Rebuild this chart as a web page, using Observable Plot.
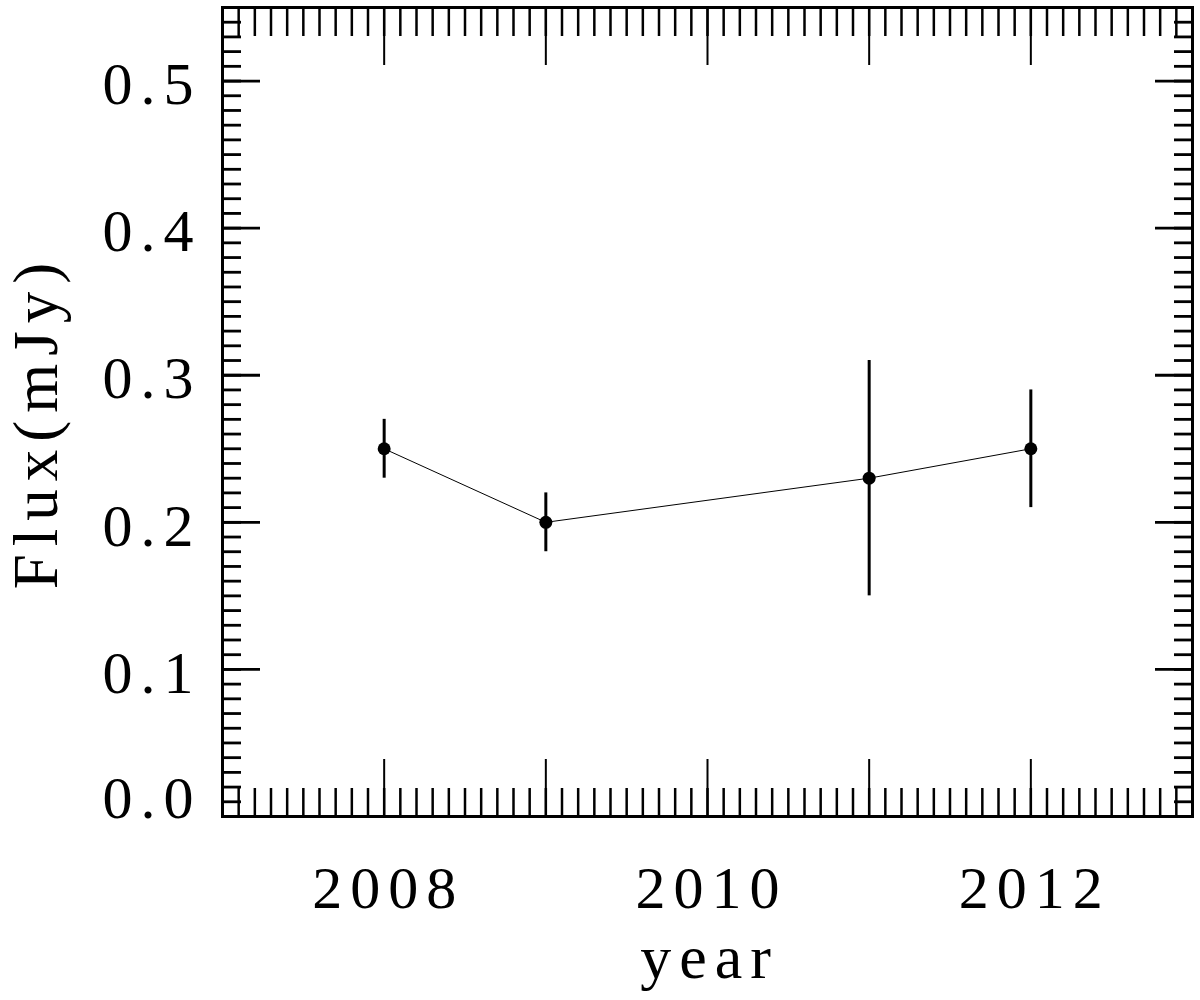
<!DOCTYPE html>
<html><head><meta charset="utf-8">
<script src="https://cdn.jsdelivr.net/npm/d3@7"></script>
<script src="https://cdn.jsdelivr.net/npm/@observablehq/plot@0.6"></script>
<style>
body{margin:0;background:#fff}
#chart svg text{letter-spacing:8px}
</style>
</head><body><div id="chart"></div>
<script>
const years = [2008, 2009, 2011, 2012];
const flux = [0.25, 0.20, 0.23, 0.25];
const fluxLow = [0.23, 0.18, 0.15, 0.21];
const fluxHigh = [0.27, 0.22, 0.31, 0.29];
const xMajorTicks = [2007, 2008, 2009, 2010, 2011, 2012, 2013];
const xTickLabels = [2008, 2010, 2012];
const yMajorTicks = [0, 0.1, 0.2, 0.3, 0.4, 0.5];
const yTickLabels = [0.1, 0.2, 0.3, 0.4, 0.5];
const yZeroLabel = [0];
const xTitle = "year";
const yTitle = "Flux(mJy)";

const data = years.map((yr, i) => ({yr, f: flux[i], lo: fluxLow[i], hi: fluxHigh[i]}));
const xMinorTicks = d3.range(0, 61).map(i => 2007 + i / 10);
const yMinorTicks = d3.range(0, 56).map(i => i / 100);

const FS = 60;
const tickAxes = [];
for (const anchor of ["bottom", "top"]) {
  tickAxes.push(Plot.axisX(xMinorTicks, {anchor, tickSize: -28, strokeWidth: 2.5, text: null, label: null}));
  tickAxes.push(Plot.axisX(xMajorTicks, {anchor, tickSize: -57, strokeWidth: 2, text: null, label: null}));
}
for (const anchor of ["left", "right"]) {
  tickAxes.push(Plot.axisY(yMinorTicks, {anchor, tickSize: -19, strokeWidth: 2.8, text: null, label: null}));
  tickAxes.push(Plot.axisY(yMajorTicks, {anchor, tickSize: -38, strokeWidth: 2.8, text: null, label: null}));
}

const chart = Plot.plot({
  width: 1200,
  height: 1000,
  marginLeft: 222,
  marginRight: 8,
  marginTop: 7,
  marginBottom: 184,
  style: {fontFamily: "'Liberation Serif', serif", background: "#fff", color: "#000"},
  x: {domain: [2007, 2013]},
  y: {domain: [0, 0.55]},
  marks: [
    ...tickAxes,
    Plot.axisX(xTickLabels, {anchor: "bottom", tickSize: 0, tickPadding: 49, tickFormat: "d", fontSize: FS, dx: 4, label: null}),
    Plot.axisY(yTickLabels, {anchor: "left", tickSize: 0, tickPadding: 21, tickFormat: ".1f", fontSize: FS, dy: 4, label: null}),
    Plot.axisY(yZeroLabel, {anchor: "left", tickSize: 0, tickPadding: 21, tickFormat: ".1f", fontSize: FS, dy: -18, label: null}),
    Plot.text([xTitle], {frameAnchor: "bottom", textAnchor: "middle", lineAnchor: "bottom", dy: 161, dx: 2, fontSize: 62, fill: "#000"}),
    Plot.text([yTitle], {frameAnchor: "left", textAnchor: "middle", lineAnchor: "middle", rotate: -90, dx: -186, dy: 10, fontSize: 63, fill: "#000"}),
    Plot.ruleX(data, {x: "yr", y1: "lo", y2: "hi", stroke: "#000", strokeWidth: 3}),
    Plot.line(data, {x: "yr", y: "f", stroke: "#000", strokeWidth: 1}),
    Plot.dot(data, {x: "yr", y: "f", r: 6.5, fill: "#000", stroke: "none"}),
    Plot.frame({stroke: "#000", strokeWidth: 3})
  ]
});
document.getElementById("chart").appendChild(chart);
</script>
</body></html>
